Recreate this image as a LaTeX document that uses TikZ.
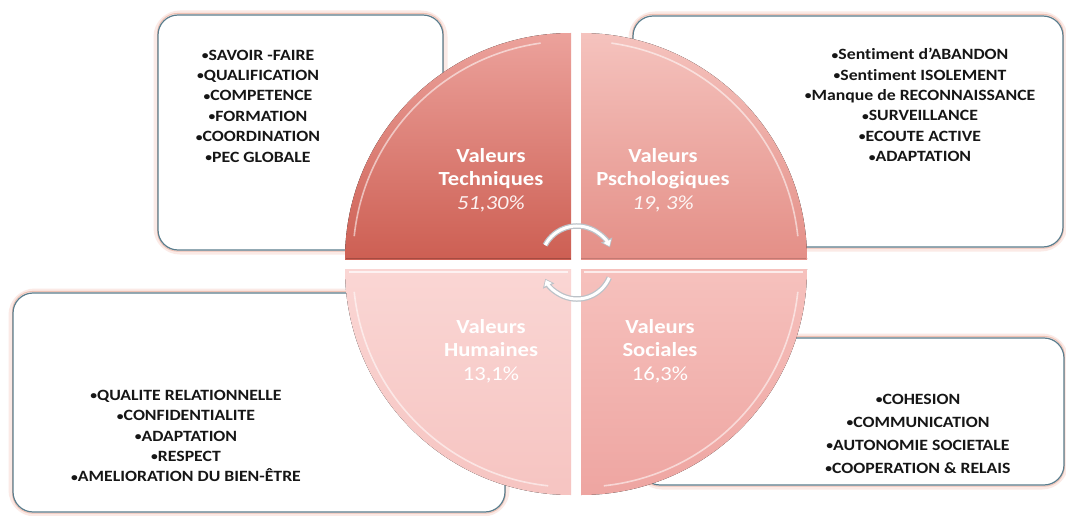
\documentclass[tikz,border=0pt]{standalone}
\usepackage{fontspec}
\setmainfont{Carlito}[FakeStretch=1.13, Ligatures=NoCommon]
\usetikzlibrary{arrows.meta}
\definecolor{boxline}{HTML}{5A7D8D}
\definecolor{boxglow}{HTML}{FBEAE6}
\definecolor{boxpink}{HTML}{EFC2B4}
\definecolor{tlTop}{HTML}{ECA29C}
\definecolor{tlBot}{HTML}{CD5F53}
\definecolor{trTop}{HTML}{F5C3BE}
\definecolor{trBot}{HTML}{E48F87}
\definecolor{blTop}{HTML}{FAD6D4}
\definecolor{blBot}{HTML}{F6C4C1}
\definecolor{brTop}{HTML}{F6C1BD}
\definecolor{brBot}{HTML}{EEA5A1}
\definecolor{txt}{HTML}{161616}
\definecolor{arrowgray}{HTML}{BCC2C8}
\newcommand\bul{{\fontsize{12}{12}\selectfont\raisebox{0.6pt}{•}}}
\tikzset{
  infobox/.style={draw=boxline, line width=1.2pt, rounded corners=20pt, fill=white},
  glowbox/.style={draw=boxglow, line width=9pt, rounded corners=22pt},
  pinkedge/.style={draw=boxpink, line width=0.9pt, rounded corners=20pt},
  listtext/.style={font=\bfseries\fontsize{15.7}{20.4}\selectfont, text=txt, align=center, inner sep=0pt},
  quadlabel/.style={font=\bfseries\fontsize{20}{23.5}\selectfont, text=white, align=center, inner sep=0pt},
  hl/.style={draw=white, draw opacity=0.55, line width=1.6pt},
  arrowout/.style={draw=arrowgray, line width=5.5pt, -{Triangle[length=8pt,width=12pt]}},
  arrowin/.style={draw=white, line width=3pt, shorten >=1.2pt, -{Triangle[length=5.5pt,width=8pt]}}
}
\begin{document}
\begin{tikzpicture}[x=1pt,y=-1pt]
\useasboundingbox[fill=white] (0,0) rectangle (1066,516);

% ---------- boxes (behind the circle) ----------
\foreach \a/\b/\c/\d in {158/15/443/250, 633/16/1063/247, 13/293/505/512, 640/338/1064/485}{
  \path[glowbox] (\a,\b) rectangle (\c,\d);
}
\foreach \a/\b/\c/\d in {158/15/443/250, 633/16/1063/247, 13/293/505/512, 640/338/1064/485}{
  \path[pinkedge] (\a-0.5,\b-1.6) rectangle (\c+0.5,\d+1.2);
  \path[infobox] (\a,\b) rectangle (\c,\d);
}

% ---------- quadrants ----------
\begin{scope}
  \clip (571,259) circle[radius=226];
  \fill[top color=tlTop, bottom color=tlBot] (344,32) rectangle (571,259);
\end{scope}
\begin{scope}
  \clip (581,259) circle[radius=226];
  \fill[top color=trTop, bottom color=trBot] (581,32) rectangle (808,259);
\end{scope}
\begin{scope}
  \clip (571,269) circle[radius=226];
  \fill[top color=blTop, bottom color=blBot] (344,269) rectangle (571,496);
\end{scope}
\begin{scope}
  \clip (581,269) circle[radius=226];
  \fill[top color=brTop, bottom color=brBot] (581,269) rectangle (808,496);
\end{scope}

% bevel highlights and edges
\draw[hl] ([shift={(571,259)}]186:218) arc[start angle=186,end angle=262,radius=218];
\draw[hl] ([shift={(581,259)}]278:218) arc[start angle=278,end angle=354,radius=218];
\draw[hl] ([shift={(571,269)}]96:218) arc[start angle=96,end angle=174,radius=218];
\draw[hl] ([shift={(581,269)}]6:218) arc[start angle=6,end angle=84,radius=218];
\draw[draw=tlBot!80!black, line width=1.4pt] (346,258.5) -- (571,258.5);
\draw[draw=trBot!85!black, line width=1.2pt] (581,258.5) -- (806,258.5);
\draw[draw=white, line width=1.5pt, draw opacity=0.7] (349,272) -- (568,272);
\draw[draw=white, line width=1.5pt, draw opacity=0.7] (584,272) -- (803,272);

% ---------- quadrant labels ----------
\node[quadlabel] (qtl) at (491,180) {Valeurs\\Techniques\\{\color{white!85!tlTop}\mdseries\itshape 51,30\%}};
\node[quadlabel] (qtr) at (663,180) {Valeurs\\Pschologiques\\{\color{white!85!trTop}\mdseries\itshape 19, 3\%}};
\node[quadlabel] (qbl) at (491,351) {Valeurs\\Humaines\\{\mdseries 13,1\%}};
\node[quadlabel] (qbr) at (660,351) {Valeurs\\Sociales\\{\mdseries 16,3\%}};

% ---------- cycle arrows ----------
\draw[arrowout] ([shift={(577,262)}]208:36) arc[start angle=208,end angle=336,radius=36];
\draw[arrowin]  ([shift={(577,262)}]208:36) arc[start angle=208,end angle=336,radius=36];
\draw[arrowout] ([shift={(577,264)}]23:35) arc[start angle=23,end angle=155,radius=35];
\draw[arrowin]  ([shift={(577,264)}]23:35) arc[start angle=23,end angle=155,radius=35];

% ---------- box texts ----------
\node[listtext] (ttech) at (258,106) {\bul SAVOIR -FAIRE\\\bul QUALIFICATION\\\bul COMPETENCE\\\bul FORMATION\\\bul COORDINATION\\\bul PEC GLOBALE};
\node[listtext] (tpsy) at (920,105) {\bul Sentiment d’ABANDON\\\bul Sentiment ISOLEMENT\\\bul Manque de RECONNAISSANCE\\\bul SURVEILLANCE\\\bul ECOUTE ACTIVE\\\bul ADAPTATION};
\node[listtext] (thum) at (186,436) {\bul QUALITE RELATIONNELLE\\\bul CONFIDENTIALITE\\\bul ADAPTATION\\\bul RESPECT\\\bul AMELIORATION DU BIEN-ÊTRE};
\node[listtext, font=\bfseries\fontsize{15.7}{23}\selectfont] (tsoc) at (918,434) {\bul COHESION\\\bul COMMUNICATION\\\bul AUTONOMIE SOCIETALE\\\bul COOPERATION \& RELAIS};
\end{tikzpicture}
\end{document}
